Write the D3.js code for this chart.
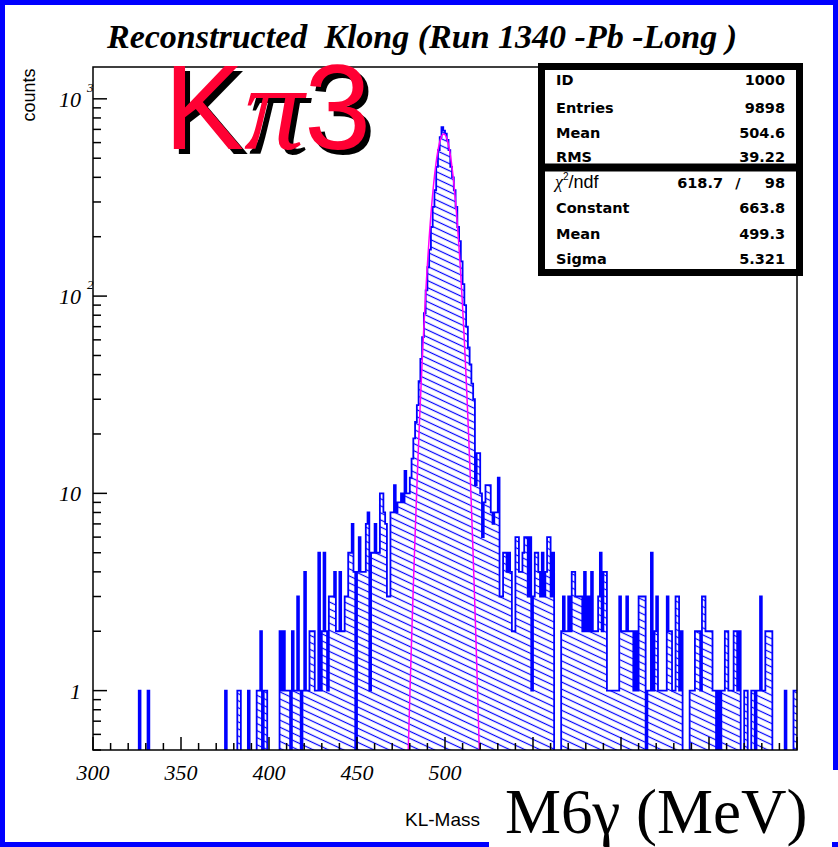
<!DOCTYPE html>
<html>
<head>
<meta charset="utf-8">
<script src="https://cdnjs.cloudflare.com/ajax/libs/d3/7.8.5/d3.min.js"></script>
<style>
  html, body { margin: 0; padding: 0; background: #fff; }
  svg { display: block; }
</style>
</head>
<body>
<svg id="chart" width="838" height="847"></svg>
<script>
// histogram: counts in 1 MeV bins from 300 to 700 MeV (one row = 20 bins)
const binStart = 300;
const binWidth = 1;
const counts = [
  // 300
  0,0,0,0,0,0,0,0,0,0, 0,0,0,0,0,0,0,0,0,0,
  // 320
  0,0,0,0,0,0,1,0,0,0, 0,1,0,0,0,0,0,0,0,0,
  // 340
  0,0,0,0,0,0,0,0,0,0, 0,0,0,0,0,0,0,0,0,0,
  // 360
  0,0,0,0,0,0,0,0,0,0, 0,0,0,0,0,1,0,0,0,0,
  // 380
  0,0,1,1,0,0,0,0,1,0, 0,0,0,1,1,2,0,1,1,0,
  // 400
  0,0,0,0,0,0,2,1,2,1, 1,1,0,2,1,1,3,1,0,1,
  // 420
  4,1,1,2,2,2,1,1,5,1, 2,5,2,1,3,3,3,4,2,2,
  // 440
  4,2,2,3,3,5,5,7,4,0, 4,6,4,4,4,7,8,1,5,5,
  // 460
  7,5,5,10,10,8,7,3,3,8, 8,11,8,9,9,10,9,13,10,10,
  // 480
  12,15,19,23,28,37,48,62,82,107, 140,172,224,283,344,452,549,640,719,690,
  // 500
  666,620,549,452,400,344,283,224,190,150, 115,90,70,55,45,36,30,11,16,16,
  // 520
  10,6,9,11,11,11,8,7,8,8, 12,3,3,5,5,4,5,4,2,2,
  // 540
  6,6,4,4,5,6,6,3,6,1, 3,5,5,4,3,5,3,4,6,6,
  // 560
  3,5,0,0,0,0,2,3,2,2, 3,2,4,4,3,3,3,3,2,4,
  // 580
  2,3,2,4,2,2,2,3,5,2, 4,4,1,1,1,1,1,1,1,3,
  // 600
  2,2,2,3,2,2,2,1,2,1, 3,3,3,3,0,1,1,5,1,2,
  // 620
  3,1,1,1,1,1,3,2,2,1, 1,3,3,1,2,0,0,0,0,1,
  // 640
  1,1,2,2,2,1,3,3,2,2, 2,2,1,1,0,1,0,1,1,2,
  // 660
  2,1,1,1,2,2,1,2,0,0, 1,1,0,0,1,1,0,1,1,3,
  // 680
  1,1,2,2,2,2,0,0,0,0, 0,0,0,1,0,0,0,0,1,1
];

// gaussian fit parameters (from the stats box)
const fitConstant = 663.8;
const fitMean = 499.3;
const fitSigma = 5.321;

// stats box rows
const statsTop = [["ID", "1000"], ["Entries", "9898"], ["Mean", "504.6"], ["RMS", "39.22"]];
const statsFit = [["Constant", "663.8"], ["Mean", "499.3"], ["Sigma", "5.321"]];
const chiValue = "618.7", ndfValue = "98";

// axis ticks (labels above 500 are hidden under the big axis label box)
const xLabels = [300, 350, 400, 450, 500];
const yDecades = [1, 10, 100, 1000];
const yLabels = [["1", ""], ["10", ""], ["10", "2"], ["10", "3"]];

const svg = d3.select("#chart");
const W = 838, H = 847;
const L = 93, R = 797, T = 67, B = 750;
const blue = "#0000ff";

const x = d3.scaleLinear().domain([300, 700]).range([L, R]);
const y = d3.scaleLog().domain([0.5, 1450]).range([B, T]);

const defs = svg.append("defs");
const hatch = defs.append("pattern")
    .attr("id", "hatch")
    .attr("patternUnits", "userSpaceOnUse")
    .attr("width", 10)
    .attr("height", 6.4)
    .attr("patternTransform", "rotate(25)");
hatch.append("line")
    .attr("x1", 0).attr("y1", 3.2).attr("x2", 10).attr("y2", 3.2)
    .attr("stroke", blue).attr("stroke-width", 1.2);

defs.append("clipPath").attr("id", "plotClip")
    .append("rect").attr("x", L).attr("y", T).attr("width", R - L).attr("height", B - T);

svg.append("rect").attr("width", W).attr("height", H).attr("fill", "#fff");

// page border
svg.append("rect")
    .attr("x", 2.5).attr("y", 2.5).attr("width", W - 5).attr("height", H - 5)
    .attr("fill", "none").attr("stroke", blue).attr("stroke-width", 5);

// title
svg.append("text")
    .attr("x", 107).attr("y", 48)
    .attr("textLength", 630).attr("lengthAdjust", "spacingAndGlyphs")
    .style("white-space", "pre")
    .style("font-family", "'Liberation Serif', 'DejaVu Serif', serif")
    .style("font-weight", "bold").style("font-style", "italic")
    .style("font-size", "34px")
    .text("Reconstructed  Klong (Run 1340 -Pb -Long )");

// histogram step path
const pts = [];
counts.forEach((c, i) => {
    const yy = c > 0 ? y(c) : B + 10;
    pts.push([x(binStart + i * binWidth), yy], [x(binStart + (i + 1) * binWidth), yy]);
});

const g = svg.append("g").attr("clip-path", "url(#plotClip)");

g.append("path")
    .datum(pts)
    .attr("d", d3.area().x(d => d[0]).y0(B + 10).y1(d => d[1]))
    .attr("fill", "url(#hatch)");

g.append("path")
    .datum(pts)
    .attr("d", d3.line().x(d => d[0]).y(d => d[1]))
    .attr("fill", "none")
    .attr("stroke", blue)
    .attr("stroke-width", 1.8);

// fit curve
const fitPts = d3.range(470, 530.01, 0.2).map(m =>
    [m, fitConstant * Math.exp(-0.5 * Math.pow((m - fitMean) / fitSigma, 2))]);
g.append("path")
    .datum(fitPts)
    .attr("d", d3.line().x(d => x(d[0])).y(d => y(Math.max(d[1], 0.3))))
    .attr("fill", "none")
    .attr("stroke", "#ff00ff")
    .attr("stroke-width", 1.5);

// frame
svg.append("rect")
    .attr("x", L).attr("y", T).attr("width", R - L).attr("height", B - T)
    .attr("fill", "none").attr("stroke", "#000").attr("stroke-width", 1.5);

// x ticks
d3.range(300, 701, 10).forEach(v => {
    const len = v % 50 === 0 ? 13 : 7;
    svg.append("line")
        .attr("x1", x(v)).attr("x2", x(v)).attr("y1", B).attr("y2", B - len)
        .attr("stroke", "#000").attr("stroke-width", 1.5);
});
xLabels.forEach(v => {
    svg.append("text")
        .attr("x", x(v)).attr("y", 780)
        .attr("text-anchor", "middle")
        .style("font-family", "'Liberation Serif', serif")
        .style("font-style", "italic")
        .style("font-size", "22px")
        .text(v);
});

// y ticks
yDecades.forEach((d, k) => {
    svg.append("line")
        .attr("x1", L).attr("x2", L + 14).attr("y1", y(d)).attr("y2", y(d))
        .attr("stroke", "#000").attr("stroke-width", 1.5);
    svg.append("text")
        .attr("x", 81).attr("y", y(d) + 8)
        .attr("text-anchor", "end")
        .style("font-family", "'Liberation Serif', serif")
        .style("font-style", "italic")
        .style("font-size", "22px")
        .text(yLabels[k][0]);
    if (yLabels[k][1]) {
        svg.append("text")
            .attr("x", 87).attr("y", y(d) - 7)
            .style("font-family", "'Liberation Serif', serif")
            .style("font-style", "italic")
            .style("font-size", "13px")
            .text(yLabels[k][1]);
    }
});
[0.1, 1, 10, 100].forEach(d => {
    d3.range(2, 10).forEach(j => {
        const v = d * j;
        if (v < 0.5 || v > 1450) return;
        svg.append("line")
            .attr("x1", L).attr("x2", L + 8).attr("y1", y(v)).attr("y2", y(v))
            .attr("stroke", "#000").attr("stroke-width", 1.5);
    });
});

// y title
svg.append("text")
    .attr("transform", "translate(35,95) rotate(-90)")
    .attr("text-anchor", "middle")
    .style("font-family", "'Liberation Sans', Arial, sans-serif")
    .style("font-size", "18px")
    .text("counts");

// K pi 3 label with shadow
[["#000", 5], ["#ff0033", 0]].forEach(([col, off]) => {
    const t = svg.append("text")
        .attr("x", 164 + off).attr("y", 149 + off)
        .attr("fill", col)
        .style("font-family", "'Liberation Sans', Arial, sans-serif")
        .style("font-size", "120px");
    t.append("tspan").text("K");
    t.append("tspan")
        .style("font-family", "'Liberation Serif', 'DejaVu Serif', serif")
        .style("font-style", "italic")
        .text("\u03c0");
    t.append("tspan").text("3");
});

// stats box
svg.append("rect")
    .attr("x", 541.5).attr("y", 66.5).attr("width", 258).attr("height", 206)
    .attr("fill", "#fff").attr("stroke", "#000").attr("stroke-width", 7);
svg.append("line")
    .attr("x1", 538).attr("x2", 803).attr("y1", 167.5).attr("y2", 167.5)
    .attr("stroke", "#000").attr("stroke-width", 8);

const statFont = sel => sel
    .style("font-family", "'DejaVu Sans', sans-serif")
    .style("font-weight", "bold")
    .style("font-size", "14.5px");

const topBase = [85, 113, 138, 162];
statsTop.forEach(([k, v], i) => {
    svg.append("text").attr("x", 556).attr("y", topBase[i]).call(statFont).text(k);
    svg.append("text").attr("x", 785).attr("y", topBase[i]).attr("text-anchor", "end").call(statFont).text(v);
});
const chi = svg.append("text").attr("x", 555).attr("y", 188)
    .style("font-family", "'Liberation Sans', sans-serif")
    .style("font-size", "18px");
chi.append("tspan").style("font-family", "'Liberation Serif', serif").style("font-style", "italic").text("\u03c7");
chi.append("tspan").attr("dy", -8).style("font-size", "10px").text("2");
chi.append("tspan").attr("dy", 8).text("/ndf");
svg.append("text").attr("x", 723).attr("y", 188).attr("text-anchor", "end").call(statFont).text(chiValue);
svg.append("text").attr("x", 738).attr("y", 188).attr("text-anchor", "middle").call(statFont).text("/");
svg.append("text").attr("x", 785).attr("y", 188).attr("text-anchor", "end").call(statFont).text(ndfValue);

const fitBase = [213, 239, 264];
statsFit.forEach(([k, v], i) => {
    svg.append("text").attr("x", 556).attr("y", fitBase[i]).call(statFont).text(k);
    svg.append("text").attr("x", 785).attr("y", fitBase[i]).attr("text-anchor", "end").call(statFont).text(v);
});

// x title, partly covered by the big label box
svg.append("text")
    .attr("x", 405).attr("y", 826)
    .style("font-family", "'Liberation Sans', Arial, sans-serif")
    .style("font-size", "19px")
    .text("KL-Mass");

svg.append("rect")
    .attr("x", 489).attr("y", 770).attr("width", W - 489).attr("height", H - 770)
    .attr("fill", "#fff");
svg.append("rect")
    .attr("x", 832).attr("y", 842).attr("width", 6).attr("height", 5)
    .attr("fill", blue);
svg.append("text")
    .attr("x", 505).attr("y", 833)
    .style("font-family", "'Liberation Serif', 'Times New Roman', serif")
    .style("font-size", "63px")
    .text("M6\u03b3 (MeV)");
</script>
</body>
</html>
